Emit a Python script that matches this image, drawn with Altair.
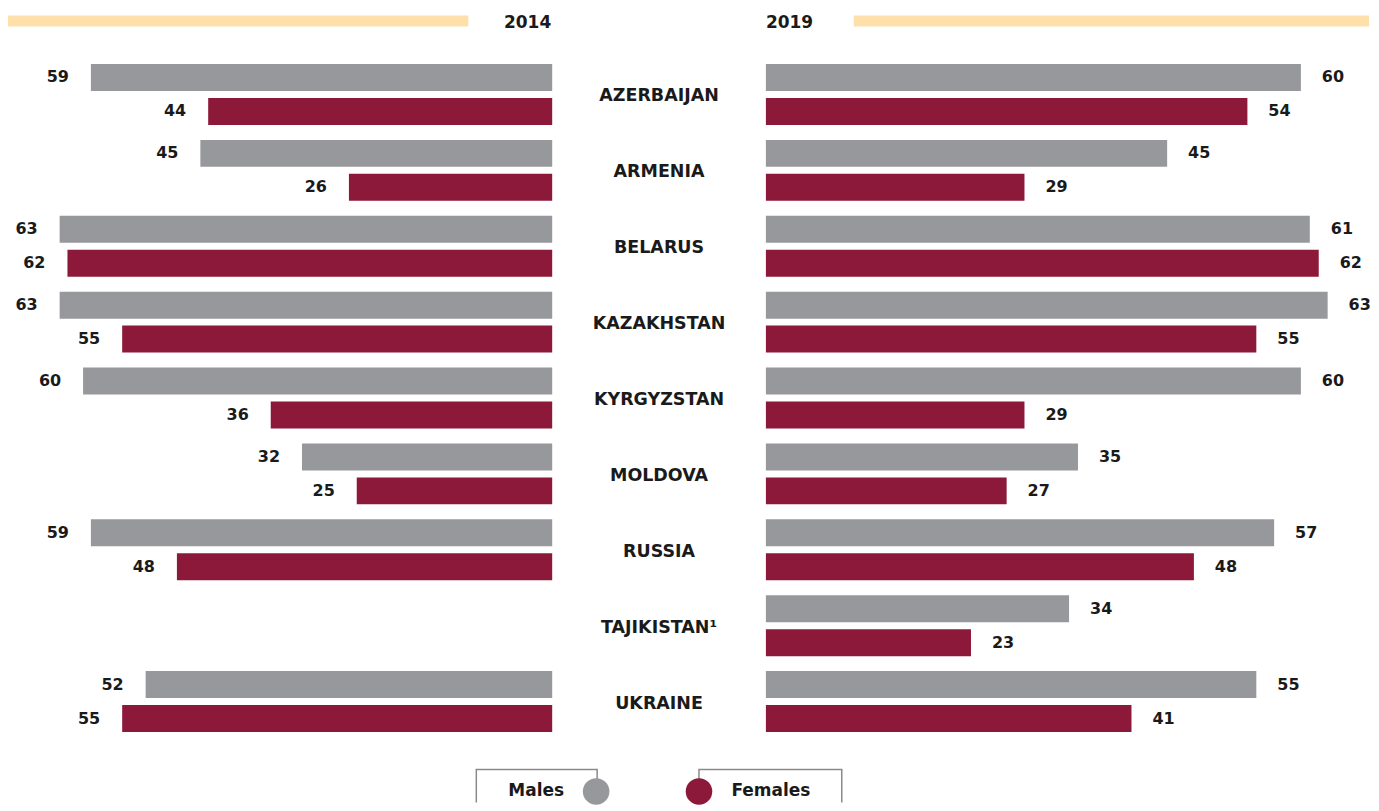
import altair as alt
import pandas as pd

# ---------------- data ----------------
countries = ["AZERBAIJAN", "ARMENIA", "BELARUS", "KAZAKHSTAN", "KYRGYZSTAN",
             "MOLDOVA", "RUSSIA", "TAJIKISTAN¹", "UKRAINE"]
sexes = ["Males", "Females"]
years = ["2014", "2019"]
males_2014 = [59, 45, 63, 63, 60, 32, 59, None, 52]
females_2014 = [44, 26, 62, 55, 36, 25, 48, None, 55]
males_2019 = [60, 45, 61, 63, 60, 35, 57, 34, 55]
females_2019 = [54, 29, 62, 55, 29, 27, 48, 23, 41]

sex_colors = ["#97989c", "#8c1939"]

rows = []
for yr, m, f in (("2014", males_2014, females_2014), ("2019", males_2019, females_2019)):
    for i, c in enumerate(countries):
        for s, vals in (("Males", m), ("Females", f)):
            if vals[i] is not None:
                rows.append(dict(country=c, sex=s, year=yr, value=vals[i]))
df = pd.DataFrame(rows)

FONT = "DejaVu Sans"
TXT = "#1a1a1a"

y_enc = alt.Y("country:N", sort=countries,
              scale=alt.Scale(domain=countries, paddingInner=15 / 76, paddingOuter=7.5 / 76),
              axis=None)
yoff = alt.YOffset("sex:N", sort=sexes,
                   scale=alt.Scale(domain=sexes, paddingInner=7 / 34, paddingOuter=0))
color = alt.Color("sex:N", scale=alt.Scale(domain=sexes, range=sex_colors), legend=None)

PLOT_H = 684


def panel(year, width, px_per_unit, reverse, align, dx):
    base = alt.Chart(df).transform_filter(alt.datum.year == year)
    x = alt.X("value:Q",
              scale=alt.Scale(domain=[0, width / px_per_unit], reverse=reverse, nice=False, zero=True),
              axis=None)
    bars = base.mark_bar().encode(x=x, y=y_enc, yOffset=yoff, color=color)
    labels = base.mark_text(align=align, baseline="middle", dx=dx, font=FONT, fontSize=16,
                            fontWeight="bold", color=TXT).encode(
        x=x, y=y_enc, yOffset=yoff, text="value:Q")
    return (bars + labels).properties(width=width, height=PLOT_H)


left = panel("2014", 545, 7.83, True, "right", -22)
right = panel("2019", 604, 8.93, False, "left", 21)

mid = alt.Chart(pd.DataFrame({"country": countries})).mark_text(
    font=FONT, fontSize=17.5, fontWeight="bold", color=TXT, baseline="middle", dy=2
).encode(y=y_enc, text="country:N", x=alt.value(107)).properties(width=214, height=PLOT_H)

main = alt.hconcat(left, mid, right, spacing=0, bounds="flush")

# ---------------- header ----------------
one = pd.DataFrame({"k": [0]})
ydf = pd.DataFrame({"year": years})
strip_l = alt.Chart(one).mark_rect(color="#ffe0aa").encode(
    x=alt.value(0), x2=alt.value(461), y=alt.value(7), y2=alt.value(18))
strip_r = alt.Chart(one).mark_rect(color="#ffe0aa").encode(
    x=alt.value(847), x2=alt.value(1363), y=alt.value(7), y2=alt.value(18))
yr_l = alt.Chart(ydf).transform_filter(alt.datum.year == "2014").mark_text(
    font=FONT, fontSize=17, fontWeight="bold", color=TXT, align="right", baseline="middle"
).encode(text="year:N", x=alt.value(544), y=alt.value(14))
yr_r = alt.Chart(ydf).transform_filter(alt.datum.year == "2019").mark_text(
    font=FONT, fontSize=17, fontWeight="bold", color=TXT, align="left", baseline="middle"
).encode(text="year:N", x=alt.value(759), y=alt.value(14))
header = alt.layer(strip_l, strip_r, yr_l, yr_r).properties(width=1363, height=48)

# ---------------- legend ----------------
sdf = pd.DataFrame({"sex": sexes})


def legend_item(sex, bx1, bx2, cx, tx):
    src = alt.Chart(sdf).transform_filter(alt.datum.sex == sex)
    box = alt.Chart(one).mark_rect(fill="white", stroke="#8a8a8a", strokeWidth=1.5, clip=True).encode(
        x=alt.value(bx1), x2=alt.value(bx2), y=alt.value(30), y2=alt.value(100))
    txt = src.mark_text(font=FONT, fontSize=17, fontWeight="bold", color=TXT, baseline="middle").encode(
        text="sex:N", x=alt.value(tx), y=alt.value(52))
    dot = src.mark_circle(size=707, opacity=1).encode(x=alt.value(cx), y=alt.value(52), color=color)
    return [box, txt, dot]


legend = alt.layer(*legend_item("Males", 469, 590, 589, 529),
                   *legend_item("Females", 692, 835, 692, 764)).properties(width=1363, height=63)

chart = alt.vconcat(header, main, legend, spacing=0).properties(
    padding=0
).configure_view(strokeWidth=0).configure_concat(spacing=0)

chart.save("out.html", embed_options={"renderer": "svg", "actions": False})
